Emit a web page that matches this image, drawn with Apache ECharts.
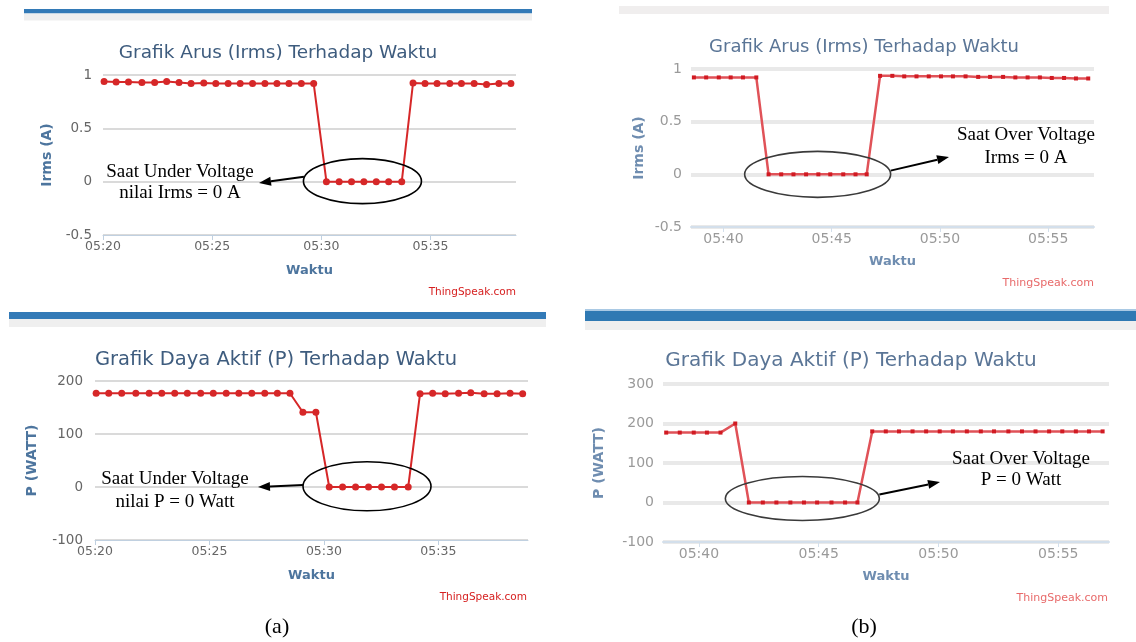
<!DOCTYPE html>
<html style="width: 100%; height: 100%">
<head>
    <meta charset="utf-8">
    <script src="https://cdn.jsdelivr.net/npm/echarts@6/dist/echarts.min.js"></script>
</head>
<body style="width: 100%; height: 100%; margin: 0; background: #fff">
<div id="container" style="width: 1136px; height: 642px"></div>

<script type="text/javascript">
    // (a) under voltage - waktu sampel ThingSpeak
    var timesA = ['05:20:03', '05:20:36', '05:21:10', '05:21:47', '05:22:22', '05:22:55', '05:23:29', '05:24:02',
        '05:24:37', '05:25:10', '05:25:44', '05:26:17', '05:26:51', '05:27:25', '05:27:58', '05:28:31',
        '05:29:05', '05:29:39', '05:30:14', '05:30:49', '05:31:23', '05:31:57', '05:32:31', '05:33:05',
        '05:33:41', '05:34:12', '05:34:45', '05:35:18', '05:35:53', '05:36:25', '05:37:00', '05:37:34',
        '05:38:08', '05:38:41'];
    var irmsA = [0.94, 0.935, 0.935, 0.93, 0.93, 0.94, 0.93, 0.92, 0.925, 0.92, 0.92, 0.92, 0.92, 0.92, 0.92, 0.92,
        0.92, 0.92, 0, 0, 0, 0, 0, 0, 0, 0.925, 0.92, 0.92, 0.92, 0.92, 0.92, 0.91, 0.92, 0.92];
    var dayaA = [177, 177, 177, 177, 177, 177, 177, 177, 177, 177, 177, 177, 177, 177, 177, 177,
        141, 141, 0, 0, 0, 0, 0, 0, 0, 176, 177, 176, 177, 178, 176, 176, 177, 176];

    // (b) over voltage
    var timesB = ['05:38:38', '05:39:12', '05:39:47', '05:40:20', '05:40:54', '05:41:31',
        '05:42:05', '05:42:40', '05:43:14', '05:43:49', '05:44:23', '05:44:56', '05:45:32', '05:46:06', '05:46:37',
        '05:47:14', '05:47:48', '05:48:21', '05:48:55', '05:49:29', '05:50:03', '05:50:36', '05:51:11', '05:51:46',
        '05:52:19', '05:52:55', '05:53:29', '05:54:03', '05:54:37', '05:55:10', '05:55:44', '05:56:17', '05:56:51'];
    var irmsB = [0.92, 0.92, 0.92, 0.92, 0.92, 0.92,
        0, 0, 0, 0, 0, 0, 0, 0, 0,
        0.935, 0.935, 0.93, 0.93, 0.93, 0.93, 0.93, 0.93, 0.925, 0.925, 0.925, 0.92, 0.92, 0.92, 0.915, 0.915, 0.91, 0.91];
    var dayaB = [177, 177, 177, 177, 177, 200,
        0, 0, 0, 0, 0, 0, 0, 0, 0,
        180, 180, 180, 180, 180, 180, 180, 180, 180, 180, 180, 180, 180, 180, 180, 180, 180, 180];

    var ticksA = ['05:20', '05:25', '05:30', '05:35'];
    var ticksB = ['05:40', '05:45', '05:50', '05:55'];
    var rangeA = ['05:20:00', '05:38:55'];
    var rangeB = ['05:38:30', '05:57:07'];
    var yIrms = [-0.5, 0, 0.5, 1];
    var yDayaA = [-100, 0, 100, 200];
    var yDayaB = [-100, 0, 100, 200, 300];

    function toSec(t) {
        var p = t.split(':');
        return (+p[0]) * 3600 + (+p[1]) * 60 + (p[2] ? +p[2] : 0);
    }
    function fmt(s) {
        var h = Math.floor(s / 3600), m = Math.floor((s % 3600) / 60);
        return (h < 10 ? '0' : '') + h + ':' + (m < 10 ? '0' : '') + m;
    }
    function pairs(times, vals) {
        return times.map(function (t, i) { return [toSec(t), vals[i]]; });
    }

    var dom = document.getElementById("container");
    var myChart = echarts.init(dom, null, {renderer: 'canvas'});

    var sans = 'DejaVu Sans';
    var serif = 'Liberation Serif';

    function xAxisFor(gi, range, ticks, faded) {
        var tv = ticks.map(toSec);
        return {
            type: 'value', gridIndex: gi,
            min: toSec(range[0]), max: toSec(range[1]),
            name: 'Waktu', nameLocation: 'middle', nameGap: faded ? 28 : 29,
            nameTextStyle: {color: faded ? '#6f8db0' : '#4d759e', fontWeight: 'bold', fontSize: 13, fontFamily: sans},
            axisLine: {show: true, onZero: false, lineStyle: {color: faded ? '#d3dfeb' : '#c0d0e0', width: faded ? 2 : 1}},
            axisTick: {show: true, length: 5, customValues: tv, lineStyle: {color: faded ? '#d3dfeb' : '#c0d0e0'}},
            axisLabel: {
                customValues: tv, margin: 5, fontSize: faded ? 14 : 12.5, fontFamily: sans,
                color: faded ? '#9a9a9a' : '#666', formatter: fmt
            },
            splitLine: {show: false}
        };
    }
    function yAxisFor(gi, ticks, name, gap, margin, faded) {
        return {
            type: 'value', gridIndex: gi,
            min: ticks[0], max: ticks[ticks.length - 1], interval: ticks[1] - ticks[0],
            name: name, nameLocation: 'middle', nameGap: gap,
            nameTextStyle: {color: faded ? '#6f8db0' : '#4d759e', fontWeight: 'bold', fontSize: 14, fontFamily: sans},
            axisLine: {show: false}, axisTick: {show: false},
            axisLabel: {margin: margin, fontSize: faded ? 14 : 13.5, fontFamily: sans, color: faded ? '#9a9a9a' : '#666'},
            splitLine: {show: true, lineStyle: {color: faded ? '#e9e9e9' : '#dadada', width: faded ? 4 : 2}}
        };
    }
    function lineSeries(gi, data, faded) {
        return {
            type: 'line', xAxisIndex: gi, yAxisIndex: gi, data: data,
            symbol: faded ? 'rect' : 'circle', symbolSize: faded ? 4 : 7, showAllSymbol: true,
            lineStyle: {color: faded ? '#e05258' : '#d62728', width: faded ? 2.5 : 2},
            itemStyle: {color: faded ? '#d11a22' : '#d62728'},
            animation: false
        };
    }

    option = {
        backgroundColor: '#ffffff',
        animation: false,
        title: [
            {text: 'Grafik Arus (Irms) Terhadap Waktu', left: 273, top: 39, textAlign: 'center',
                textStyle: {fontSize: 18.5, fontWeight: 'normal', color: '#3e5c7e', fontFamily: sans}},
            {text: 'Grafik Arus (Irms) Terhadap Waktu', left: 859, top: 33, textAlign: 'center',
                textStyle: {fontSize: 18, fontWeight: 'normal', color: '#5a7596', fontFamily: sans}},
            {text: 'Grafik Daya Aktif (P) Terhadap Waktu', left: 271, top: 345, textAlign: 'center',
                textStyle: {fontSize: 19.5, fontWeight: 'normal', color: '#3e5c7e', fontFamily: sans}},
            {text: 'Grafik Daya Aktif (P) Terhadap Waktu', left: 846, top: 346, textAlign: 'center',
                textStyle: {fontSize: 20, fontWeight: 'normal', color: '#5a7596', fontFamily: sans}}
        ],
        grid: [
            {left: 103, right: 620, top: 75, bottom: 407, containLabel: false, outerBoundsMode: 'none'},
            {left: 691, right: 42, top: 69, bottom: 415, containLabel: false, outerBoundsMode: 'none'},
            {left: 95, right: 608, top: 381, bottom: 102, containLabel: false, outerBoundsMode: 'none'},
            {left: 663, right: 27, top: 384, bottom: 100, containLabel: false, outerBoundsMode: 'none'}
        ],
        xAxis: [
            xAxisFor(0, rangeA, ticksA, false),
            xAxisFor(1, rangeB, ticksB, true),
            xAxisFor(2, rangeA, ticksA, false),
            xAxisFor(3, rangeB, ticksB, true)
        ],
        yAxis: [
            yAxisFor(0, yIrms, 'Irms (A)', 49, 11, false),
            yAxisFor(1, yIrms, 'Irms (A)', 45, 9, true),
            yAxisFor(2, yDayaA, 'P (WATT)', 56, 12, false),
            yAxisFor(3, yDayaB, 'P (WATT)', 57, 9, true)
        ],
        series: [
            lineSeries(0, pairs(timesA, irmsA), false),
            lineSeries(1, pairs(timesB, irmsB), true),
            lineSeries(2, pairs(timesA, dayaA), false),
            lineSeries(3, pairs(timesB, dayaB), true)
        ]
    };
    myChart.setOption(option);

    // bingkai panel ThingSpeak
    var g = [
        {type: 'rect', shape: {x: 24, y: 9, width: 508, height: 4.5}, style: {fill: '#337ab7'}},
        {type: 'rect', shape: {x: 24, y: 13.5, width: 508, height: 7}, style: {fill: '#efefef'}},
        {type: 'rect', shape: {x: 619, y: 6, width: 490, height: 8}, style: {fill: '#f0eeee'}},
        {type: 'rect', shape: {x: 9, y: 312, width: 537, height: 7}, style: {fill: '#337ab7'}},
        {type: 'rect', shape: {x: 9, y: 319, width: 537, height: 8}, style: {fill: '#efefef'}},
        {type: 'rect', shape: {x: 585, y: 309, width: 551, height: 2}, style: {fill: '#a9c9e4'}},
        {type: 'rect', shape: {x: 585, y: 311, width: 551, height: 10}, style: {fill: '#2f79b3'}},
        {type: 'rect', shape: {x: 585, y: 321, width: 551, height: 9}, style: {fill: '#efefef'}}
    ];
    function txt(x, y, s, font, color, align) {
        var st = {x: x, y: y, text: s, fill: color, font: font, textAlign: align || 'center', textVerticalAlign: 'middle'};
        return {type: 'text', style: st, z: 100};
    }
    g.push(txt(516, 292, 'ThingSpeak.com', '10.5px ' + sans, '#d62020', 'right'));
    g.push(txt(1094, 283, 'ThingSpeak.com', '11px ' + sans, '#e86a6a', 'right'));
    g.push(txt(527, 597, 'ThingSpeak.com', '10.5px ' + sans, '#d62020', 'right'));
    g.push(txt(1108, 598, 'ThingSpeak.com', '11px ' + sans, '#e86a6a', 'right'));
    g.push(txt(277, 627, '(a)', '22px ' + serif, '#000'));
    g.push(txt(864, 627, '(b)', '22px ' + serif, '#000'));

    var notes = [
        {l1: 'Saat Under Voltage', l2: 'nilai Irms = 0 A', x: 180, y1: 172, y2: 193},
        {l1: 'Saat Over Voltage', l2: 'Irms = 0 A', x: 1026, y1: 135, y2: 158},
        {l1: 'Saat Under Voltage', l2: 'nilai P = 0 Watt', x: 175, y1: 479, y2: 502},
        {l1: 'Saat Over Voltage', l2: 'P = 0 Watt', x: 1021, y1: 459, y2: 480}
    ];
    notes.forEach(function (n) {
        g.push(txt(n.x, n.y1, n.l1, '19px ' + serif, '#000'));
        g.push(txt(n.x, n.y2, n.l2, '19px ' + serif, '#000'));
    });

    // elips di sekitar nilai nol + panah ke keterangan
    var rings = [
        {grid: 0, at: '05:31:53', dy: -0.5, rx: 59, ry: 22.5, start: [-58.5, -4.5], tip: [259, 183], color: '#000'},
        {grid: 1, at: '05:44:21', dy: 0, rx: 73, ry: 23, start: [73, -3.7], tip: [949, 157], color: '#3a3a3a'},
        {grid: 2, at: '05:31:53', dy: -0.7, rx: 64, ry: 24.5, start: [-64, -1.3], tip: [258, 487], color: '#000'},
        {grid: 3, at: '05:44:19', dy: -4, rx: 77, ry: 22, start: [77, -4], tip: [940, 482], color: '#3a3a3a'}
    ];
    rings.forEach(function (r) {
        var c = myChart.convertToPixel({gridIndex: r.grid}, [toSec(r.at), 0]);
        var cx = c[0], cy = c[1] + r.dy;
        g.push({type: 'ellipse', shape: {cx: cx, cy: cy, rx: r.rx, ry: r.ry},
            style: {fill: 'none', stroke: r.color, lineWidth: 1.6}, z: 90});
        var x1 = cx + r.start[0], y1 = cy + r.start[1], x2 = r.tip[0], y2 = r.tip[1];
        var a = Math.atan2(y2 - y1, x2 - x1), head = 12, w = 9;
        var bx = x2 - head * Math.cos(a), by = y2 - head * Math.sin(a);
        var px = -Math.sin(a) * w / 2, py = Math.cos(a) * w / 2;
        g.push({type: 'line', shape: {x1: x1, y1: y1, x2: bx, y2: by},
            style: {stroke: '#000', lineWidth: 2}, z: 90});
        g.push({type: 'polygon', shape: {points: [[x2, y2], [bx + px, by + py], [bx - px, by - py]]},
            style: {fill: '#000'}, z: 90});
    });

    myChart.setOption({graphic: g});
</script>
</body>
</html>
